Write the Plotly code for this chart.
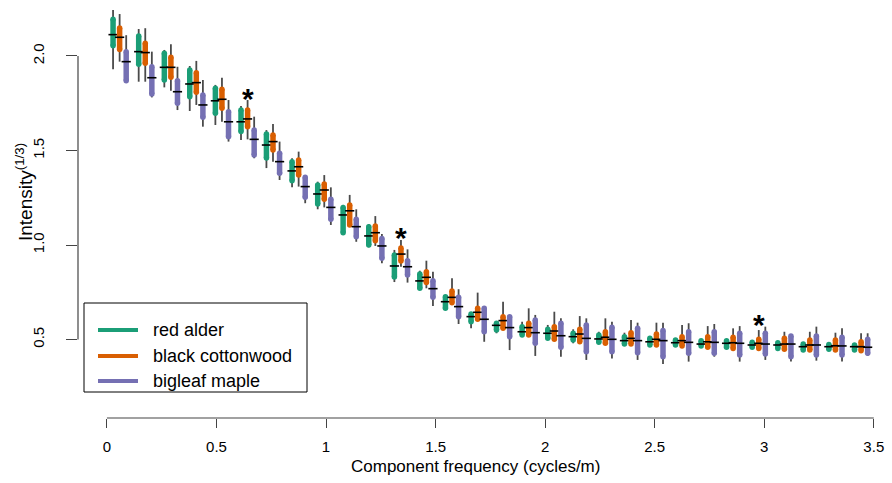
import plotly.graph_objects as go

# ---------------- data ----------------
freq = [0.058, 0.175, 0.292, 0.408, 0.525, 0.642, 0.758, 0.875, 0.992, 1.108,
        1.225, 1.342, 1.458, 1.575, 1.692, 1.808, 1.925, 2.042, 2.158, 2.275,
        2.392, 2.508, 2.625, 2.742, 2.858, 2.975, 3.092, 3.208, 3.325, 3.442]

species = ["red alder", "black cottonwood", "bigleaf maple"]

alder_lo = [1.930, 1.864, 1.834, 1.709, 1.635, 1.556, 1.407, 1.305, 1.189, 1.058,
            0.988, 0.804, 0.762, 0.656, 0.559, 0.533, 0.515, 0.497, 0.480, 0.476,
            0.471, 0.466, 0.462, 0.459, 0.453, 0.453, 0.448, 0.441, 0.444, 0.441]
alder_q1 = [2.054, 1.956, 1.873, 1.785, 1.697, 1.600, 1.460, 1.340, 1.217, 1.065,
            1.000, 0.831, 0.771, 0.665, 0.594, 0.550, 0.524, 0.506, 0.497, 0.485,
            0.476, 0.471, 0.471, 0.466, 0.459, 0.459, 0.453, 0.444, 0.448, 0.444]
alder_med = [2.113, 2.023, 1.940, 1.852, 1.763, 1.652, 1.529, 1.392, 1.270, 1.159,
             1.048, 0.889, 0.810, 0.700, 0.621, 0.575, 0.541, 0.533, 0.515, 0.503,
             0.494, 0.488, 0.483, 0.476, 0.480, 0.471, 0.471, 0.462, 0.462, 0.462]
alder_q3 = [2.194, 2.106, 2.014, 1.926, 1.829, 1.714, 1.587, 1.441, 1.317, 1.199,
            1.097, 0.947, 0.847, 0.726, 0.635, 0.586, 0.568, 0.554, 0.533, 0.524,
            0.515, 0.506, 0.497, 0.494, 0.494, 0.485, 0.483, 0.476, 0.474, 0.471]
alder_hi = [2.243, 2.143, 2.032, 1.947, 1.847, 1.735, 1.608, 1.459, 1.335, 1.212,
            1.111, 0.974, 0.864, 0.730, 0.639, 0.594, 0.594, 0.577, 0.554, 0.541,
            0.536, 0.515, 0.506, 0.501, 0.497, 0.494, 0.488, 0.480, 0.480, 0.480]

cotton_lo = [1.970, 1.864, 1.816, 1.741, 1.652, 1.559, 1.441, 1.309, 1.199, 1.097,
             0.995, 0.885, 0.771, 0.683, 0.603, 0.554, 0.515, 0.495, 0.485, 0.478,
             0.474, 0.469, 0.464, 0.457, 0.451, 0.451, 0.446, 0.442, 0.442, 0.439]
cotton_q1 = [2.035, 1.961, 1.887, 1.808, 1.723, 1.626, 1.503, 1.370, 1.242, 1.106,
             1.023, 0.915, 0.801, 0.695, 0.607, 0.559, 0.524, 0.501, 0.488, 0.480,
             0.476, 0.471, 0.466, 0.459, 0.453, 0.453, 0.448, 0.444, 0.444, 0.441]
cotton_med = [2.099, 2.018, 1.940, 1.859, 1.771, 1.667, 1.547, 1.414, 1.291, 1.181,
              1.065, 0.952, 0.829, 0.723, 0.644, 0.600, 0.563, 0.545, 0.529, 0.512,
              0.506, 0.501, 0.494, 0.488, 0.483, 0.480, 0.476, 0.471, 0.467, 0.462]
cotton_q3 = [2.148, 2.067, 1.993, 1.912, 1.824, 1.714, 1.582, 1.450, 1.323, 1.212,
             1.101, 0.984, 0.859, 0.757, 0.665, 0.621, 0.586, 0.568, 0.554, 0.541,
             0.536, 0.529, 0.515, 0.515, 0.512, 0.501, 0.506, 0.497, 0.497, 0.488]
cotton_hi = [2.222, 2.147, 2.062, 1.974, 1.885, 1.767, 1.640, 1.494, 1.370, 1.265,
             1.153, 1.026, 0.917, 0.824, 0.748, 0.700, 0.665, 0.647, 0.624, 0.612,
             0.603, 0.589, 0.577, 0.571, 0.559, 0.550, 0.541, 0.541, 0.536, 0.533]

maple_lo = [1.865, 1.781, 1.714, 1.626, 1.547, 1.459, 1.344, 1.221, 1.106, 1.017,
            0.903, 0.801, 0.677, 0.582, 0.488, 0.444, 0.413, 0.409, 0.392, 0.400,
            0.392, 0.370, 0.383, 0.409, 0.383, 0.392, 0.383, 0.388, 0.383, 0.413]
maple_q1 = [1.869, 1.799, 1.750, 1.676, 1.573, 1.476, 1.379, 1.252, 1.136, 1.044,
            0.930, 0.841, 0.723, 0.621, 0.541, 0.515, 0.480, 0.459, 0.435, 0.435,
            0.430, 0.409, 0.427, 0.427, 0.418, 0.423, 0.409, 0.418, 0.418, 0.427]
maple_med = [1.970, 1.885, 1.811, 1.741, 1.652, 1.559, 1.441, 1.309, 1.199, 1.097,
             0.995, 0.885, 0.769, 0.674, 0.607, 0.563, 0.536, 0.520, 0.506, 0.501,
             0.494, 0.494, 0.485, 0.485, 0.480, 0.476, 0.476, 0.471, 0.466, 0.459]
maple_q3 = [2.023, 1.943, 1.869, 1.794, 1.705, 1.608, 1.485, 1.358, 1.242, 1.136,
            1.035, 0.917, 0.811, 0.723, 0.665, 0.621, 0.603, 0.586, 0.577, 0.565,
            0.559, 0.547, 0.541, 0.541, 0.533, 0.533, 0.519, 0.519, 0.512, 0.501]
maple_hi = [2.110, 2.023, 1.943, 1.873, 1.767, 1.679, 1.547, 1.370, 1.305, 1.189,
            1.058, 0.977, 0.859, 0.766, 0.670, 0.630, 0.630, 0.612, 0.612, 0.594,
            0.589, 0.589, 0.586, 0.582, 0.571, 0.568, 0.525, 0.568, 0.559, 0.533]

star_freq = [0.642, 1.342, 2.975]
star_y = [1.81, 1.077, 0.617]

x_ticks = [0, 0.5, 1, 1.5, 2, 2.5, 3, 3.5]
x_ticktext = ["0", "0.5", "1", "1.5", "2", "2.5", "3", "3.5"]
y_ticks = [0.5, 1.0, 1.5, 2.0]
y_ticktext = ["0.5", "1.0", "1.5", "2.0"]

# ---------------- style ----------------
colors = ["#1b9e77", "#d95f02", "#7570b3"]
offsets = [-0.03, 0.0, 0.03]
FONT = "Liberation Sans, Arial, Helvetica, sans-serif"
W, H = 892, 483
ML, MR, MT, MB = 78, 2, 5, 65
XR = [-0.132, 3.574]
YR = [0.0847, 2.2698]
AXC = "#444444"

def px_x(p):
    return (p - ML) / (W - ML - MR)

def px_y(p):
    return (H - MB - p) / (H - MT - MB)

series = [
    (alder_lo, alder_q1, alder_med, alder_q3, alder_hi),
    (cotton_lo, cotton_q1, cotton_med, cotton_q3, cotton_hi),
    (maple_lo, maple_q1, maple_med, maple_q3, maple_hi),
]

fig = go.Figure()
half_med = 0.021
for name, col, off, (lo, q1, med, q3, hi) in zip(species, colors, offsets, series):
    xs = [f + off for f in freq]
    wx, wy, bx, by, mx, my = [], [], [], [], [], []
    for x, a, b, m, c, d in zip(xs, lo, q1, med, q3, hi):
        wx += [x, x, None]; wy += [a, d, None]
        bx += [x, x, None]; by += [b, c, None]
        mx += [x - half_med, x + half_med, None]; my += [m, m, None]
    fig.add_trace(go.Scatter(x=wx, y=wy, mode="lines", showlegend=False,
                             line=dict(color="#4a4a4a", width=1.8), hoverinfo="skip"))
    fig.add_trace(go.Scatter(x=bx, y=by, mode="lines+markers", showlegend=False, name=name,
                             line=dict(color=col, width=5.5),
                             marker=dict(color=col, size=5.5, line=dict(width=0))))
    fig.add_trace(go.Scatter(x=mx, y=my, mode="lines", showlegend=False,
                             line=dict(color="black", width=1.6), hoverinfo="skip"))

# asterisks marking significant groups
for sx, sy in zip(star_freq, star_y):
    fig.add_annotation(x=sx, y=sy, text="<b>*</b>", showarrow=False, yshift=-7,
                       font=dict(family=FONT, size=30, color="black"))

# R-style axis lines spanning only the tick range
fig.add_shape(type="line", xref="x", yref="paper", x0=x_ticks[0], x1=x_ticks[-1], y0=0, y1=0,
              line=dict(color=AXC, width=1.2))
fig.add_shape(type="line", xref="paper", yref="y", x0=0, x1=0, y0=y_ticks[0], y1=y_ticks[-1],
              line=dict(color=AXC, width=1.2))

# legend box (R style)
fig.add_shape(type="rect", xref="paper", yref="paper", x0=px_x(84), x1=px_x(307),
              y0=px_y(392), y1=px_y(303), line=dict(color="black", width=1), fillcolor="white")
for i, (name, col) in enumerate(zip(species, colors)):
    yy = [330, 356, 381][i]
    fig.add_shape(type="line", xref="paper", yref="paper", x0=px_x(98), x1=px_x(138),
                  y0=px_y(yy), y1=px_y(yy), line=dict(color=col, width=4))
    fig.add_annotation(xref="paper", yref="paper", x=px_x(151), y=px_y(yy), text=name,
                       showarrow=False, xanchor="left", yanchor="middle",
                       font=dict(family=FONT, size=18, color="black"))

# axis titles
fig.add_annotation(xref="paper", yref="paper", x=px_x(475), y=px_y(467),
                   text="Component frequency (cycles/m)", showarrow=False,
                   xanchor="center", yanchor="middle",
                   font=dict(family=FONT, size=17, color="black"))
fig.add_annotation(xref="paper", yref="paper", x=px_x(24), y=px_y(192),
                   text="Intensity<sup>(1/3)</sup>", showarrow=False, textangle=-90,
                   xanchor="center", yanchor="middle",
                   font=dict(family=FONT, size=19, color="black"))

fig.update_layout(
    width=W, height=H,
    margin=dict(l=ML, r=MR, t=MT, b=MB),
    paper_bgcolor="white", plot_bgcolor="white",
    showlegend=False,
    font=dict(family=FONT, color="black"),
    xaxis=dict(range=XR, tickvals=x_ticks, ticktext=x_ticktext, showgrid=False,
               zeroline=False, showline=False, ticks="outside", ticklen=9,
               tickcolor=AXC, tickwidth=1.2, ticklabelstandoff=6, automargin=False,
               tickfont=dict(family=FONT, size=15, color="black")),
    yaxis=dict(range=YR, tickvals=y_ticks, ticktext=y_ticktext, showgrid=False,
               zeroline=False, showline=False, ticks="outside", ticklen=11,
               tickcolor=AXC, tickwidth=1.2, tickangle=-90, ticklabelstandoff=16,
               automargin=False,
               tickfont=dict(family=FONT, size=15, color="black")),
)

fig.write_html("out.html", config={"displayModeBar": False},
               post_script="document.body.style.margin='0';document.body.style.overflow='hidden';")
